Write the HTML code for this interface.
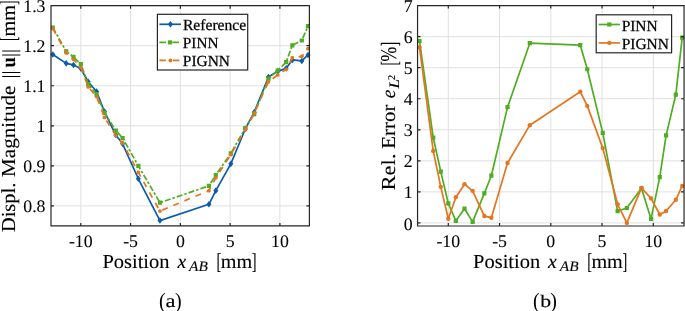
<!DOCTYPE html><html><head><meta charset="utf-8"><style>html,body{margin:0;padding:0;background:#fff;overflow:hidden}svg{display:block;will-change:transform}.tk{stroke-width:0.08px}text{text-rendering:geometricPrecision;font-family:"Liberation Serif",serif;fill:#000;stroke:#000;stroke-width:0.1px}.lg{stroke-width:0.25px}</style></head><body>
<svg width="685" height="311" viewBox="0 0 685 311">
<rect width="685" height="311" fill="#fff"/>
<path d="M80.8 5.68V225.9M130.57 5.68V225.9M180.35 5.68V225.9M230.12 5.68V225.9M279.9 5.68V225.9M51 205.88H309.4M51 165.84H309.4M51 125.8H309.4M51 85.76H309.4M51 45.72H309.4M51 5.68H309.4" stroke="#dfe0e2" stroke-width="1" fill="none"/>
<polyline points="52.83,54.53 66.17,63.34 73.48,64.94 80.8,68.54 88.17,81.76 96.53,91.57 104.44,111.59 115.79,135.01 122.61,143.82 138.34,178.77 159.94,220.57 208.92,204.28 215.79,190.66 230.82,163.84 245.26,129 254.22,112.19 268.45,76.95 277.71,71.35 286.17,68.34 292.34,59.93 301.8,60.94 307.97,54.93" fill="none" stroke="#0b5cad" stroke-width="1.7" stroke-linejoin="round"/>
<path d="M52.83 51.23L55.33 54.53L52.83 57.83L50.33 54.53ZM66.17 60.04L68.67 63.34L66.17 66.64L63.67 63.34ZM73.48 61.64L75.98 64.94L73.48 68.24L70.98 64.94ZM80.8 65.24L83.3 68.54L80.8 71.84L78.3 68.54ZM88.17 78.46L90.67 81.76L88.17 85.06L85.67 81.76ZM96.53 88.27L99.03 91.57L96.53 94.87L94.03 91.57ZM104.44 108.29L106.94 111.59L104.44 114.89L101.94 111.59ZM115.79 131.71L118.29 135.01L115.79 138.31L113.29 135.01ZM122.61 140.52L125.11 143.82L122.61 147.12L120.11 143.82ZM138.34 175.47L140.84 178.77L138.34 182.07L135.84 178.77ZM159.94 217.27L162.44 220.57L159.94 223.87L157.44 220.57ZM208.92 200.98L211.42 204.28L208.92 207.58L206.42 204.28ZM215.79 187.36L218.29 190.66L215.79 193.96L213.29 190.66ZM230.82 160.54L233.32 163.84L230.82 167.14L228.32 163.84ZM245.26 125.7L247.76 129L245.26 132.3L242.76 129ZM254.22 108.89L256.72 112.19L254.22 115.49L251.72 112.19ZM268.45 73.65L270.95 76.95L268.45 80.25L265.95 76.95ZM277.71 68.05L280.21 71.35L277.71 74.65L275.21 71.35ZM286.17 65.04L288.67 68.34L286.17 71.64L283.67 68.34ZM292.34 56.63L294.84 59.93L292.34 63.23L289.84 59.93ZM301.8 57.64L304.3 60.94L301.8 64.24L299.3 60.94ZM307.97 51.63L310.47 54.93L307.97 58.23L305.47 54.93Z" fill="#0b5cad"/>
<polyline points="52.83,27.5 66.17,51.33 73.48,56.93 80.8,64.14 88.17,84.16 96.53,94.17 104.44,112.59 115.79,130.6 122.61,138.01 138.34,165.84 159.94,202.68 208.92,185.86 215.79,175.05 230.82,153.43 245.26,128 254.22,114.19 268.45,78.55 277.71,70.54 286.17,62.14 292.34,45.32 301.8,40.51 307.97,26.1" fill="none" stroke="#4fad22" stroke-width="1.7" stroke-linejoin="round" stroke-dasharray="6,2,2.5,2"/>
<path d="M50.73 25.4h4.2v4.2h-4.2ZM64.07 49.23h4.2v4.2h-4.2ZM71.38 54.83h4.2v4.2h-4.2ZM78.7 62.04h4.2v4.2h-4.2ZM86.07 82.06h4.2v4.2h-4.2ZM94.43 92.07h4.2v4.2h-4.2ZM102.34 110.49h4.2v4.2h-4.2ZM113.69 128.5h4.2v4.2h-4.2ZM120.51 135.91h4.2v4.2h-4.2ZM136.24 163.74h4.2v4.2h-4.2ZM157.84 200.58h4.2v4.2h-4.2ZM206.82 183.76h4.2v4.2h-4.2ZM213.69 172.95h4.2v4.2h-4.2ZM228.72 151.33h4.2v4.2h-4.2ZM243.16 125.9h4.2v4.2h-4.2ZM252.12 112.09h4.2v4.2h-4.2ZM266.35 76.45h4.2v4.2h-4.2ZM275.61 68.44h4.2v4.2h-4.2ZM284.07 60.04h4.2v4.2h-4.2ZM290.24 43.22h4.2v4.2h-4.2ZM299.7 38.41h4.2v4.2h-4.2ZM305.87 24h4.2v4.2h-4.2Z" fill="#4fad22"/>
<polyline points="52.83,28.5 66.17,52.93 73.48,59.33 80.8,67.34 88.17,86.96 96.53,96.57 104.44,117.39 115.79,135.41 122.61,143.02 138.34,172.45 159.94,211.09 208.92,190.66 215.79,177.85 230.82,154.63 245.26,129.8 254.22,113.19 268.45,81.76 277.71,74.95 286.17,69.34 292.34,57.73 301.8,56.33 307.97,48.72" fill="none" stroke="#e5761f" stroke-width="1.7" stroke-linejoin="round" stroke-dasharray="6,6"/>
<circle cx="52.83" cy="28.5" r="1.9" fill="#e5761f"/>
<circle cx="66.17" cy="52.93" r="1.9" fill="#e5761f"/>
<circle cx="73.48" cy="59.33" r="1.9" fill="#e5761f"/>
<circle cx="80.8" cy="67.34" r="1.9" fill="#e5761f"/>
<circle cx="88.17" cy="86.96" r="1.9" fill="#e5761f"/>
<circle cx="96.53" cy="96.57" r="1.9" fill="#e5761f"/>
<circle cx="104.44" cy="117.39" r="1.9" fill="#e5761f"/>
<circle cx="115.79" cy="135.41" r="1.9" fill="#e5761f"/>
<circle cx="122.61" cy="143.02" r="1.9" fill="#e5761f"/>
<circle cx="138.34" cy="172.45" r="1.9" fill="#e5761f"/>
<circle cx="159.94" cy="211.09" r="1.9" fill="#e5761f"/>
<circle cx="208.92" cy="190.66" r="1.9" fill="#e5761f"/>
<circle cx="215.79" cy="177.85" r="1.9" fill="#e5761f"/>
<circle cx="230.82" cy="154.63" r="1.9" fill="#e5761f"/>
<circle cx="245.26" cy="129.8" r="1.9" fill="#e5761f"/>
<circle cx="254.22" cy="113.19" r="1.9" fill="#e5761f"/>
<circle cx="268.45" cy="81.76" r="1.9" fill="#e5761f"/>
<circle cx="277.71" cy="74.95" r="1.9" fill="#e5761f"/>
<circle cx="286.17" cy="69.34" r="1.9" fill="#e5761f"/>
<circle cx="292.34" cy="57.73" r="1.9" fill="#e5761f"/>
<circle cx="301.8" cy="56.33" r="1.9" fill="#e5761f"/>
<circle cx="307.97" cy="48.72" r="1.9" fill="#e5761f"/>
<path d="M51 5.68H309.4V225.9H51ZM80.8 225.9v-3M80.8 5.68v3M130.57 225.9v-3M130.57 5.68v3M180.35 225.9v-3M180.35 5.68v3M230.12 225.9v-3M230.12 5.68v3M279.9 225.9v-3M279.9 5.68v3M51 205.88h3M309.4 205.88h-3M51 165.84h3M309.4 165.84h-3M51 125.8h3M309.4 125.8h-3M51 85.76h3M309.4 85.76h-3M51 45.72h3M309.4 45.72h-3M51 5.68h3M309.4 5.68h-3" stroke="#262626" stroke-width="1.2" fill="none"/>
<path d="M448.3 5.62V226M499.55 5.62V226M550.8 5.62V226M602.05 5.62V226M653.3 5.62V226M417.55 222.9H684.05M417.55 191.86H684.05M417.55 160.82H684.05M417.55 129.78H684.05M417.55 98.74H684.05M417.55 67.7H684.05M417.55 36.66H684.05M417.55 5.62H684.05" stroke="#dfe0e2" stroke-width="1" fill="none"/>
<polyline points="419.5,41.01 433.23,137.54 440.77,171.68 448.3,203.47 455.88,220.79 464.49,208.68 472.64,221.91 484.33,193.41 491.35,175.72 507.54,107.12 529.79,43.18 580.22,45.04 587.29,69.25 602.77,132.88 617.63,211.1 626.85,208 641.51,188.26 651.04,218.9 659.76,177.15 666.11,135.37 675.85,94.55 682.2,37.59" fill="none" stroke="#4fad22" stroke-width="1.7" stroke-linejoin="round"/>
<path d="M417.4 38.91h4.2v4.2h-4.2ZM431.13 135.44h4.2v4.2h-4.2ZM438.67 169.58h4.2v4.2h-4.2ZM446.2 201.37h4.2v4.2h-4.2ZM453.78 218.69h4.2v4.2h-4.2ZM462.39 206.58h4.2v4.2h-4.2ZM470.54 219.81h4.2v4.2h-4.2ZM482.23 191.31h4.2v4.2h-4.2ZM489.25 173.62h4.2v4.2h-4.2ZM505.44 105.02h4.2v4.2h-4.2ZM527.69 41.08h4.2v4.2h-4.2ZM578.12 42.94h4.2v4.2h-4.2ZM585.19 67.15h4.2v4.2h-4.2ZM600.67 130.78h4.2v4.2h-4.2ZM615.53 209h4.2v4.2h-4.2ZM624.75 205.9h4.2v4.2h-4.2ZM639.41 186.16h4.2v4.2h-4.2ZM648.94 216.8h4.2v4.2h-4.2ZM657.66 175.05h4.2v4.2h-4.2ZM664.01 133.27h4.2v4.2h-4.2ZM673.75 92.45h4.2v4.2h-4.2ZM680.1 35.49h4.2v4.2h-4.2Z" fill="#4fad22"/>
<polyline points="419.5,47.37 433.23,150.89 440.77,186.86 448.3,218.71 455.88,197.17 464.49,184.16 472.64,190.87 484.33,216.07 491.35,217.69 507.54,162.99 529.79,125.19 580.22,91.72 587.29,105.88 602.77,148.09 617.63,204.28 626.85,222.9 641.51,187.95 651.04,198.38 659.76,214.52 666.11,210.98 675.85,199.78 682.2,185.96" fill="none" stroke="#e5761f" stroke-width="1.7" stroke-linejoin="round"/>
<circle cx="419.5" cy="47.37" r="2.2" fill="#e5761f"/>
<circle cx="433.23" cy="150.89" r="2.2" fill="#e5761f"/>
<circle cx="440.77" cy="186.86" r="2.2" fill="#e5761f"/>
<circle cx="448.3" cy="218.71" r="2.2" fill="#e5761f"/>
<circle cx="455.88" cy="197.17" r="2.2" fill="#e5761f"/>
<circle cx="464.49" cy="184.16" r="2.2" fill="#e5761f"/>
<circle cx="472.64" cy="190.87" r="2.2" fill="#e5761f"/>
<circle cx="484.33" cy="216.07" r="2.2" fill="#e5761f"/>
<circle cx="491.35" cy="217.69" r="2.2" fill="#e5761f"/>
<circle cx="507.54" cy="162.99" r="2.2" fill="#e5761f"/>
<circle cx="529.79" cy="125.19" r="2.2" fill="#e5761f"/>
<circle cx="580.22" cy="91.72" r="2.2" fill="#e5761f"/>
<circle cx="587.29" cy="105.88" r="2.2" fill="#e5761f"/>
<circle cx="602.77" cy="148.09" r="2.2" fill="#e5761f"/>
<circle cx="617.63" cy="204.28" r="2.2" fill="#e5761f"/>
<circle cx="626.85" cy="222.9" r="2.2" fill="#e5761f"/>
<circle cx="641.51" cy="187.95" r="2.2" fill="#e5761f"/>
<circle cx="651.04" cy="198.38" r="2.2" fill="#e5761f"/>
<circle cx="659.76" cy="214.52" r="2.2" fill="#e5761f"/>
<circle cx="666.11" cy="210.98" r="2.2" fill="#e5761f"/>
<circle cx="675.85" cy="199.78" r="2.2" fill="#e5761f"/>
<circle cx="682.2" cy="185.96" r="2.2" fill="#e5761f"/>
<path d="M417.55 5.62H684.05V226H417.55ZM448.3 226v-3M448.3 5.62v3M499.55 226v-3M499.55 5.62v3M550.8 226v-3M550.8 5.62v3M602.05 226v-3M602.05 5.62v3M653.3 226v-3M653.3 5.62v3M417.55 222.9h3M684.05 222.9h-3M417.55 191.86h3M684.05 191.86h-3M417.55 160.82h3M684.05 160.82h-3M417.55 129.78h3M684.05 129.78h-3M417.55 98.74h3M684.05 98.74h-3M417.55 67.7h3M684.05 67.7h-3M417.55 36.66h3M684.05 36.66h-3M417.55 5.62h3M684.05 5.62h-3" stroke="#262626" stroke-width="1.2" fill="none"/>
<text x="80.8" y="247" font-size="17.8" class="tk" text-anchor="middle">-10</text>
<text x="130.57" y="247" font-size="17.8" class="tk" text-anchor="middle">-5</text>
<text x="180.35" y="247" font-size="17.8" class="tk" text-anchor="middle">0</text>
<text x="230.12" y="247" font-size="17.8" class="tk" text-anchor="middle">5</text>
<text x="279.9" y="247" font-size="17.8" class="tk" text-anchor="middle">10</text>
<text x="448.3" y="247" font-size="17.8" class="tk" text-anchor="middle">-10</text>
<text x="499.55" y="247" font-size="17.8" class="tk" text-anchor="middle">-5</text>
<text x="550.8" y="247" font-size="17.8" class="tk" text-anchor="middle">0</text>
<text x="602.05" y="247" font-size="17.8" class="tk" text-anchor="middle">5</text>
<text x="653.3" y="247" font-size="17.8" class="tk" text-anchor="middle">10</text>
<text x="45.5" y="212.48" font-size="17.8" class="tk" text-anchor="end">0.8</text>
<text x="45.5" y="172.44" font-size="17.8" class="tk" text-anchor="end">0.9</text>
<text x="45.5" y="132.4" font-size="17.8" class="tk" text-anchor="end">1</text>
<text x="45.5" y="92.36" font-size="17.8" class="tk" text-anchor="end">1.1</text>
<text x="45.5" y="52.32" font-size="17.8" class="tk" text-anchor="end">1.2</text>
<text x="45.5" y="12.28" font-size="17.8" class="tk" text-anchor="end">1.3</text>
<text x="412.7" y="229.5" font-size="17.8" class="tk" text-anchor="end">0</text>
<text x="412.7" y="198.46" font-size="17.8" class="tk" text-anchor="end">1</text>
<text x="412.7" y="167.42" font-size="17.8" class="tk" text-anchor="end">2</text>
<text x="412.7" y="136.38" font-size="17.8" class="tk" text-anchor="end">3</text>
<text x="412.7" y="105.34" font-size="17.8" class="tk" text-anchor="end">4</text>
<text x="412.7" y="74.3" font-size="17.8" class="tk" text-anchor="end">5</text>
<text x="412.7" y="43.26" font-size="17.8" class="tk" text-anchor="end">6</text>
<text x="412.7" y="12.22" font-size="17.8" class="tk" text-anchor="end">7</text>
<text transform="translate(102.39,267.6) scale(1.0309,1)" font-size="19.85">Position</text>
<text transform="translate(177.4,267.6) scale(0.9852,1)" font-size="19.85" font-style="italic">x</text>
<text transform="translate(189.07,270.5) scale(1.0593,1)" font-size="14.5" font-style="italic">AB</text>
<text transform="translate(216.6,268.9) scale(0.6265,1)" font-size="22.9">[</text>
<text transform="translate(220.7,267.6) scale(1.0175,1)" font-size="19.85">mm</text>
<text transform="translate(251.77,268.9) scale(0.6265,1)" font-size="22.9">]</text>
<text transform="translate(473.09,267.6) scale(1.0309,1)" font-size="19.85">Position</text>
<text transform="translate(548.1,267.6) scale(0.9852,1)" font-size="19.85" font-style="italic">x</text>
<text transform="translate(559.77,270.5) scale(1.0593,1)" font-size="14.5" font-style="italic">AB</text>
<text transform="translate(587.3,268.9) scale(0.6265,1)" font-size="22.9">[</text>
<text transform="translate(591.4,267.6) scale(1.0175,1)" font-size="19.85">mm</text>
<text transform="translate(622.47,268.9) scale(0.6265,1)" font-size="22.9">]</text>
<text transform="translate(15.2,232.01) rotate(-90) scale(1.0271,1)" font-size="19.85">Displ.</text>
<text transform="translate(15.2,176.93) rotate(-90) scale(1.0618,1)" font-size="19.85">Magnitude</text>
<text transform="translate(16,78.39) rotate(-90)" font-size="19.85">|</text>
<text transform="translate(16,74.39) rotate(-90)" font-size="19.85">|</text>
<text transform="translate(15.2,67.49) rotate(-90) scale(0.9397,1)" font-size="19.85" font-weight="bold">u</text>
<text transform="translate(16,57.09) rotate(-90)" font-size="19.85">|</text>
<text transform="translate(16,53.09) rotate(-90)" font-size="19.85">|</text>
<text transform="translate(15.8,41.04) rotate(-90) scale(0.5663,1)" font-size="23.8">[</text>
<text transform="translate(15.2,36.4) rotate(-90) scale(1.0142,1)" font-size="19.85">mm</text>
<text transform="translate(15.8,4.9) rotate(-90) scale(0.5663,1)" font-size="23.8">]</text>
<text transform="translate(395.1,190.58) rotate(-90) scale(1.1417,1)" font-size="19.85">Rel.</text>
<text transform="translate(395.1,148.83) rotate(-90) scale(1.0562,1)" font-size="19.85">Error</text>
<text transform="translate(395.1,98.18) rotate(-90) scale(0.9817,1)" font-size="19.85" font-style="italic">e</text>
<text transform="translate(399.3,88.53) rotate(-90) scale(1.1671,1)" font-size="14.5" font-style="italic">L</text>
<text transform="translate(395.4,80.33) rotate(-90) scale(1.0221,1)" font-size="10.5">2</text>
<text transform="translate(396.8,65.51) rotate(-90) scale(0.5598,1)" font-size="23.3">[</text>
<text transform="translate(395.85,61.53) rotate(-90) scale(0.7815,1)" font-size="22.6">%</text>
<text transform="translate(396.8,46.19) rotate(-90) scale(0.5598,1)" font-size="23.3">]</text>
<rect x="157.4" y="14.3" width="90.3" height="55.7" fill="#fff" stroke="#262626" stroke-width="1.2"/>
<line x1="159.4" y1="24.3" x2="181" y2="24.3" stroke="#0b5cad" stroke-width="1.7"/>
<path d="M170.4 21L172.9 24.3L170.4 27.6L167.9 24.3Z" fill="#0b5cad"/>
<line x1="159.4" y1="42.4" x2="181" y2="42.4" stroke="#4fad22" stroke-width="1.7" stroke-dasharray="6.5,2,2.5,2"/>
<path d="M167.9 40.3h4.2v4.2h-4.2Z" fill="#4fad22"/>
<line x1="159.4" y1="60.4" x2="181" y2="60.4" stroke="#e5761f" stroke-width="1.7" stroke-dasharray="6.5,7"/>
<circle cx="170.4" cy="60.4" r="1.9" fill="#e5761f"/>
<text transform="translate(182.93,29.8) scale(1.0106,1)" font-size="15.45" class="lg">Reference</text>
<text transform="translate(182.84,47.7) scale(0.9879,1)" font-size="15.45" class="lg">PINN</text>
<text transform="translate(182.84,66) scale(0.9968,1)" font-size="15.45" class="lg">PIGNN</text>
<rect x="596.2" y="14.8" width="75.4" height="38" fill="#fff" stroke="#262626" stroke-width="1.2"/>
<line x1="598.7" y1="24.5" x2="619.9" y2="24.5" stroke="#4fad22" stroke-width="1.7"/>
<path d="M607.2 22.4h4.2v4.2h-4.2Z" fill="#4fad22"/>
<line x1="598.7" y1="42.9" x2="619.9" y2="42.9" stroke="#e5761f" stroke-width="1.7"/>
<circle cx="609.3" cy="42.9" r="2.1" fill="#e5761f"/>
<text transform="translate(621.64,30.5)" font-size="15.45" class="lg">PINN</text>
<text transform="translate(621.64,48.5) scale(1.0011,1)" font-size="15.45" class="lg">PIGNN</text>
<text transform="translate(158.9,308) scale(0.9091,1)" font-size="22" style="stroke-width:0">(</text>
<text transform="translate(165.62,306.5) scale(1.1905,1)" font-size="18.9" style="stroke-width:0.15px">a</text>
<text transform="translate(175,308) scale(0.9091,1)" font-size="22" style="stroke-width:0">)</text>
<text transform="translate(532.9,308) scale(0.9091,1)" font-size="22" style="stroke-width:0">(</text>
<text transform="translate(540.3,306.5) scale(1.2282,1)" font-size="17.7" style="stroke-width:0.15px">b</text>
<text transform="translate(550.3,308) scale(0.9091,1)" font-size="22" style="stroke-width:0">)</text>
</svg></body></html>
